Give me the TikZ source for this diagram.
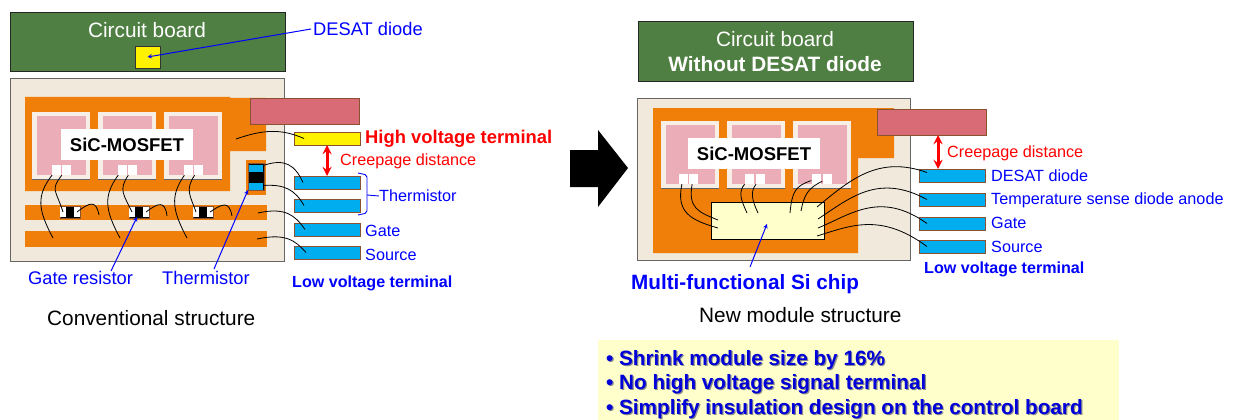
\documentclass[tikz,border=0pt]{standalone}
\usepackage{fontspec}
\setmainfont{Liberation Sans}
\definecolor{boardgreen}{HTML}{4F7F42}
\definecolor{basecream}{HTML}{F1E9DC}
\definecolor{copper}{HTML}{EF7F08}
\definecolor{chipedge}{HTML}{F7EEE6}
\definecolor{chippink}{HTML}{EBAEB8}
\definecolor{barred}{HTML}{D96B77}
\definecolor{rim}{HTML}{8A5230}
\definecolor{termblue}{HTML}{00AEEF}
\definecolor{paleyellow}{HTML}{FFFFCC}
\newcommand{\shadowed}[1]{\leavevmode\rlap{\kern1.2pt\raisebox{-1.2pt}{\textcolor{black!45}{#1}}}\textcolor{blue!85!black}{#1}}
\tikzset{
  box/.style={anchor=north west, inner sep=0pt, outer sep=0pt, rectangle},
  board/.style={box, draw=black!85, fill=boardgreen, minimum width=275pt},
  module/.style={box, draw=black!60, line width=0.9pt, fill=basecream},
  chipbox/.style={box, fill=chipedge, minimum width=58pt, minimum height=67pt},
  chipcore/.style={rectangle, fill=chippink, minimum width=49pt, minimum height=59pt, inner sep=0pt},
  pad/.style={rectangle, fill=white, minimum width=9pt, minimum height=10pt, inner sep=0pt},
  namebox/.style={box, fill=white, minimum width=132pt, minimum height=31pt, font=\bfseries\fontsize{18.5}{20}\selectfont},
  hvbar/.style={box, draw=rim, line width=0.9pt, fill=barred, minimum width=109pt, minimum height=26pt},
  term/.style={box, draw=rim, line width=0.9pt, fill=termblue, minimum width=66pt, minimum height=13pt},
  resbox/.style={box, draw=rim, fill=black, minimum width=20pt, minimum height=12pt},
  resend/.style={rectangle, fill=white, minimum width=5.5pt, minimum height=10pt, inner sep=0pt},
  wire/.style={draw=black, line width=0.8pt},
  note/.style={anchor=west, inner sep=0pt, text=blue, font=\fontsize{16.2}{18}\selectfont},
  bigtext/.style={font=\fontsize{20.8}{25}\selectfont},
  bluearrow/.style={draw=blue, line width=1pt, -stealth},
  redarrow/.style={draw=red, line width=3pt, stealth-stealth},
}
\begin{document}
\begin{tikzpicture}[x=1pt, y=-1pt]
  \useasboundingbox (0,0) rectangle (1235,420);

  % conventional structure
  \node[board, minimum height=59pt] (boardL) at (10,12) {};
  \node[anchor=center, inner sep=0pt, text=white, bigtext] (boardLtext) at (147,30) {Circuit board};
  \node[box, draw=black!80, fill=yellow, minimum width=25pt, minimum height=22pt] (desatL) at (135,46) {};
  \node[module, minimum width=274pt, minimum height=183pt] (moduleL) at (10,78) {};
  \fill[copper] (25,97) -- (230,97) -- (230,98) -- (266,98) -- (266,151) -- (230,151) -- (230,191) -- (25,191) -- cycle;
  \fill[copper] (246,160) rectangle (266,195);
  \fill[copper] (25,205) rectangle (267,220);
  \fill[copper] (25,231) rectangle (267,247);

  \foreach \i/\x in {1/32,2/98,3/164} {
    \node[chipbox] (chipL\i) at (\x,112) {};
    \node[chipcore] at (chipL\i.center) {};
    \draw[black!60] (chipL\i.south west) -- (chipL\i.south east);
    \node[pad] (padL\i a) at (\x+24,170) {};
    \node[pad] (padL\i b) at (\x+34,170) {};
  }
  \node[namebox] (nameL) at (61,129) {SiC-MOSFET};

  \foreach \i/\x in {1/60,2/129,3/193} {
    \node[resbox] (resL\i) at (\x,206) {};
    \node[resend] at ([xshift=3pt]resL\i.west) {};
    \node[resend] at ([xshift=-3pt]resL\i.east) {};
  }
  \node[box, draw=rim, fill=black, minimum width=16pt, minimum height=27pt] (thermL) at (248,163) {};
  \node[rectangle, fill=termblue, minimum width=14pt, minimum height=7pt, inner sep=0pt] (thermLa) at (256,168) {};
  \node[rectangle, fill=termblue, minimum width=14pt, minimum height=7pt, inner sep=0pt] (thermLb) at (256,186) {};

  \node[hvbar] (barL) at (250,98) {};
  \node[term, fill=yellow] (hvL) at (294,132) {};
  \node[term] (tL1) at (294,176) {};
  \node[term] (tL2) at (294,199) {};
  \node[term] (tL3) at (294,223) {};
  \node[term] (tL4) at (294,246) {};

  \coordinate (stripA1) at (53,238);
  \coordinate (stripA2) at (120,238);
  \coordinate (stripA3) at (187,238);
  \coordinate (stripB1) at (99,215);
  \coordinate (stripB2) at (167,216);
  \coordinate (stripB3) at (232,216);
  \coordinate (hvpad) at (236,139);
  \coordinate (gatepad) at (258,213);
  \coordinate (srcpad) at (257,239);

  \path[wire]
    (padL1a) .. controls (36,196) and (38,210) .. (stripA1)
    (padL1b) .. controls (50,190) and (56,190) .. ([xshift=3pt]resL1.west)
    ([xshift=-3pt]resL1.east) .. controls (90,202) and (96,200) .. (stripB1)
    (padL2a) .. controls (103,196) and (105,210) .. (stripA2)
    (padL2b) .. controls (118,190) and (124,195) .. ([xshift=3pt]resL2.west)
    ([xshift=-3pt]resL2.east) .. controls (158,203) and (165,200) .. (stripB2)
    (padL3a) .. controls (170,196) and (172,210) .. (stripA3)
    (padL3b) .. controls (185,190) and (190,195) .. ([xshift=3pt]resL3.west)
    ([xshift=-3pt]resL3.east) .. controls (222,204) and (229,200) .. (stripB3)
    (hvpad) .. controls (262,130) and (280,128) .. ([xshift=10pt]hvL.west)
    (thermLa) .. controls (285,158) and (295,165) .. ([xshift=9pt]tL1.west)
    (thermLb) .. controls (285,184) and (295,190) .. ([xshift=10pt]tL2.west)
    (gatepad) .. controls (285,207) and (295,215) .. ([xshift=11pt]tL3.west)
    (srcpad) .. controls (285,233) and (295,240) .. ([xshift=12pt]tL4.west);

  \path[redarrow] (hvL.south -| 327,0) -- (tL1.north -| 327,0);
  \node[note, text=red] (creepL) at (340,161) {Creepage distance};
  \node[note, text=red, font=\bfseries\fontsize{18.4}{20}\selectfont] (hvtext) at (365,139) {High voltage terminal};
  \node[note, font=\fontsize{18.3}{20}\selectfont] (desattext) at (313,29) {DESAT diode};
  \node[note] (thermtext) at (379,196) {Thermistor};
  \node[note] (gatetext) at (365,231) {Gate};
  \node[note] (sourcetext) at (365,255) {Source};
  \node[note, font=\bfseries\fontsize{16.1}{18}\selectfont] (lowtextL) at (292,283) {Low voltage terminal};
  \node[note, font=\fontsize{18.3}{20}\selectfont] (restext) at (28,278) {Gate resistor};
  \node[note, font=\fontsize{18.3}{20}\selectfont] (thermnote) at (162,278) {Thermistor};
  \node[note, text=black, bigtext] (captionL) at (47,318) {Conventional structure};

  \coordinate (braceT) at (358,173);
  \coordinate (braceB) at (358,215);
  \draw[blue, line width=0.9pt, rounded corners=2pt] (braceT) -- (367,175) -- (367,213) -- (braceB);
  \draw[blue, line width=0.9pt] (367,195) -- (thermtext.west);

  \path[bluearrow] ([xshift=-2pt]desattext.west) -- (desatL.center);
  \path[bluearrow] (111,271) -- ([xshift=-2pt,yshift=1pt]resL2.south);
  \path[bluearrow] (214,269) -- (thermL.south west);

  % big arrow
  \fill[black] (570,150) -- (598,150) -- (598,130) -- (628,168) -- (598,207) -- (598,187) -- (570,187) -- cycle;

  % new module
  \node[board, minimum height=60pt] (boardR) at (638,21) {};
  \node[anchor=center, inner sep=0pt, text=white, bigtext] (boardRtext) at (775,39) {Circuit board};
  \node[anchor=center, inner sep=0pt, text=white, font=\bfseries\fontsize{20.8}{25}\selectfont] (boardRbold) at (775,64) {Without DESAT diode};
  \node[module, minimum width=273pt, minimum height=162pt] (moduleR) at (637,98) {};
  \fill[copper] (653,108) -- (894,108) -- (894,158) -- (858,158) -- (858,253) -- (653,253) -- cycle;

  \foreach \i/\x in {1/661,2/727,3/793} {
    \node[chipbox] (chipR\i) at (\x,121) {};
    \node[chipcore] at (chipR\i.center) {};
    \draw[black!60] (chipR\i.south west) -- (chipR\i.south east);
  }
  \foreach \n/\x in {1a/683,1b/693,2a/749,2b/760,3a/816,3b/827} {
    \node[pad] (padR\n) at (\x,179) {};
  }
  \node[namebox] (nameR) at (688,138) {SiC-MOSFET};
  \node[box, draw=black, line width=0.9pt, fill=paleyellow, minimum width=113pt, minimum height=37pt] (sichip) at (711,202) {};

  \node[hvbar] (barR) at (877,109) {};
  \node[term] (tR1) at (919,169) {};
  \node[term] (tR2) at (919,193) {};
  \node[term] (tR3) at (919,217) {};
  \node[term] (tR4) at (919,240) {};

  \coordinate (siA) at (718,228);
  \coordinate (siB) at (718,220);
  \coordinate (siC) at (747,213);
  \coordinate (siD) at (758,213);
  \coordinate (siE) at (790,213);
  \coordinate (siF) at (801,211);
  \coordinate (siG) at (817,207);
  \coordinate (siH) at (818,219);
  \coordinate (siI) at (818,228);
  \coordinate (siJ) at (817,236);

  \path[wire]
    (padR1a) .. controls (676,212) and (690,220) .. (siA)
    (padR1b) .. controls (688,208) and (698,212) .. (siB)
    (padR2a) .. controls (738,192) and (741,200) .. (siC)
    (padR2b) .. controls (750,192) and (752,200) .. (siD)
    (padR3a) .. controls (795,186) and (792,192) .. (siE)
    (padR3b) .. controls (808,188) and (804,195) .. (siF)
    (siG) .. controls (850,180) and (878,155) .. ([xshift=8pt,yshift=3pt]tR1.west)
    (siH) .. controls (850,198) and (878,173) .. ([xshift=8pt]tR2.west)
    (siI) .. controls (850,215) and (880,190) .. ([xshift=8pt]tR3.west)
    (siJ) .. controls (850,226) and (880,212) .. ([xshift=8pt]tR4.west);

  \path[redarrow] (barR.south -| 938,0) -- (tR1.north -| 938,0);
  \node[note, text=red] (creepR) at (947,153) {Creepage distance};
  \node[note] (noteR1) at (991,176) {DESAT diode};
  \node[note] (noteR2) at (991,200) {Temperature sense diode anode};
  \node[note] (noteR3) at (991,223) {Gate};
  \node[note] (noteR4) at (991,247) {Source};
  \node[note, font=\bfseries\fontsize{16.1}{18}\selectfont] (lowtextR) at (924,269) {Low voltage terminal};
  \node[note, font=\bfseries\fontsize{20.7}{22}\selectfont] (sitext) at (631,284) {Multi-functional Si chip};
  \node[note, text=black, bigtext] (captionR) at (699,315) {New module structure};
  \path[bluearrow] (750,267) -- (767,224);

  % summary box
  \node[box, fill=paleyellow, minimum width=521pt, minimum height=80pt] (summary) at (598,340) {};
  \node[anchor=north west, inner sep=0pt, align=left, text=blue!85!black, font=\bfseries\fontsize{20.7}{24.5}\selectfont] (points) at (606,350)
    {\shadowed{• Shrink module size by 16\%}\\
     \shadowed{• No high voltage signal terminal}\\
     \shadowed{• Simplify insulation design on the control board}};
\end{tikzpicture}
\end{document}
